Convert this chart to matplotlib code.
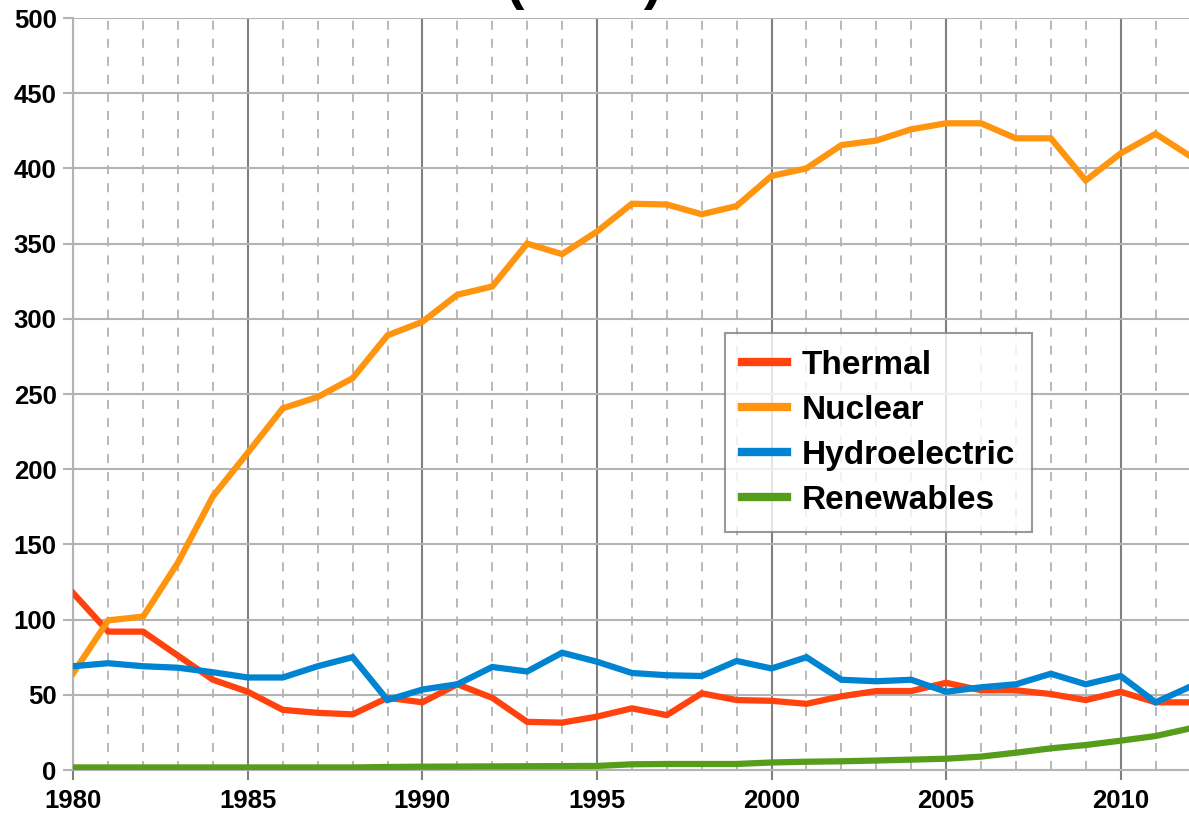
import numpy as np
import matplotlib.pyplot as plt
from matplotlib.ticker import MultipleLocator

plt.rcParams['font.family'] = ['Liberation Sans', 'DejaVu Sans']

years = np.arange(1980, 2013)

# TWh
thermal = [117.5, 92, 92, 76, 60, 52, 40, 38, 37, 48,
           45, 57, 48, 32, 31.5, 35.5, 41, 36.5, 51, 46.5,
           46, 44, 49, 52.5, 52.5, 58, 53, 53, 50.5, 46.5,
           52, 45, 45]
nuclear = [64.5, 99.5, 102, 138, 182, 211, 240.5, 248, 260.5, 289,
           298, 316, 321.5, 350, 343, 358, 376.5, 376, 369.5, 375,
           395, 400, 415.5, 418.5, 426, 430, 430, 420, 420, 392,
           410, 423, 408]
hydro = [69, 71, 69, 68, 65, 61.5, 61.5, 69, 75, 46.5,
         53.5, 57, 68.5, 65.5, 78, 72, 64.5, 63, 62.5, 72.5,
         67.5, 75, 60, 59, 60, 52, 55, 57, 64, 57,
         62.5, 45, 55.5]
renew = [1.7, 1.7, 1.7, 1.7, 1.7, 1.7, 1.7, 1.7, 1.7, 2,
         2.2, 2.3, 2.4, 2.5, 2.6, 2.7, 3.8, 4, 4, 4,
         5, 5.5, 5.8, 6.3, 6.9, 7.5, 8.9, 11.5, 14.4, 16.6,
         19.5, 22.6, 27.7]

series = [("Thermal", thermal, "#ff420e"),
          ("Nuclear", nuclear, "#ff950e"),
          ("Hydroelectric", hydro, "#0084d1"),
          ("Renewables", renew, "#579d1c")]

fig = plt.figure(figsize=(11.89, 8.16), dpi=100)
ax = fig.add_axes([73.3 / 1189, 46 / 816, 1117.2 / 1189, 752 / 816])

for name, vals, col in series:
    ax.plot(years, vals, color=col, lw=4.5, label=name, zorder=3,
            solid_joinstyle='miter')

ax.set_xlim(1980, 2012)
ax.set_ylim(0, 500)
ax.xaxis.set_major_locator(MultipleLocator(5))
ax.xaxis.set_minor_locator(MultipleLocator(1))
ax.yaxis.set_major_locator(MultipleLocator(50))

ax.grid(True, which='major', axis='y', color='#b3b3b3', lw=1.5, zorder=0)
ax.grid(True, which='major', axis='x', color='#808080', lw=1.5, zorder=0)
ax.grid(True, which='minor', axis='x', color='#b3b3b3', lw=1.3,
        linestyle=(0, (5, 5)), zorder=0)

for s in ['top', 'right']:
    ax.spines[s].set_visible(False)
ax.spines['left'].set_color('#b3b3b3')
ax.spines['left'].set_linewidth(1.5)
ax.spines['bottom'].set_color('#b3b3b3')
ax.spines['bottom'].set_linewidth(1.5)

ax.tick_params(axis='both', which='major', length=7, width=1.5,
               color='#b3b3b3', labelsize=18.5, pad=5)
ax.tick_params(axis='x', which='major', color='#808080', pad=7)
ax.tick_params(axis='x', which='minor', length=0)
for lab in ax.get_xticklabels() + ax.get_yticklabels():
    lab.set_fontweight('bold')

leg = ax.legend(loc='upper left', bbox_to_anchor=((725 - 73.3) / 1117.2, (770 - 333) / 752),
                prop={'size': 24, 'weight': 'bold'}, frameon=True, fancybox=False,
                handlelength=1.35, handletextpad=0.45, labelspacing=0.42,
                borderpad=0.5, borderaxespad=0)
leg.get_frame().set_edgecolor('#808080')
leg.get_frame().set_linewidth(1.5)
for ln in leg.get_lines():
    ln.set_linewidth(6)

fig.text(584 / 1189, 1 + 2 / 816, "(TWh)", ha='center', va='baseline',
         fontsize=40, fontweight='bold')

fig.savefig("out.png", dpi=100)
